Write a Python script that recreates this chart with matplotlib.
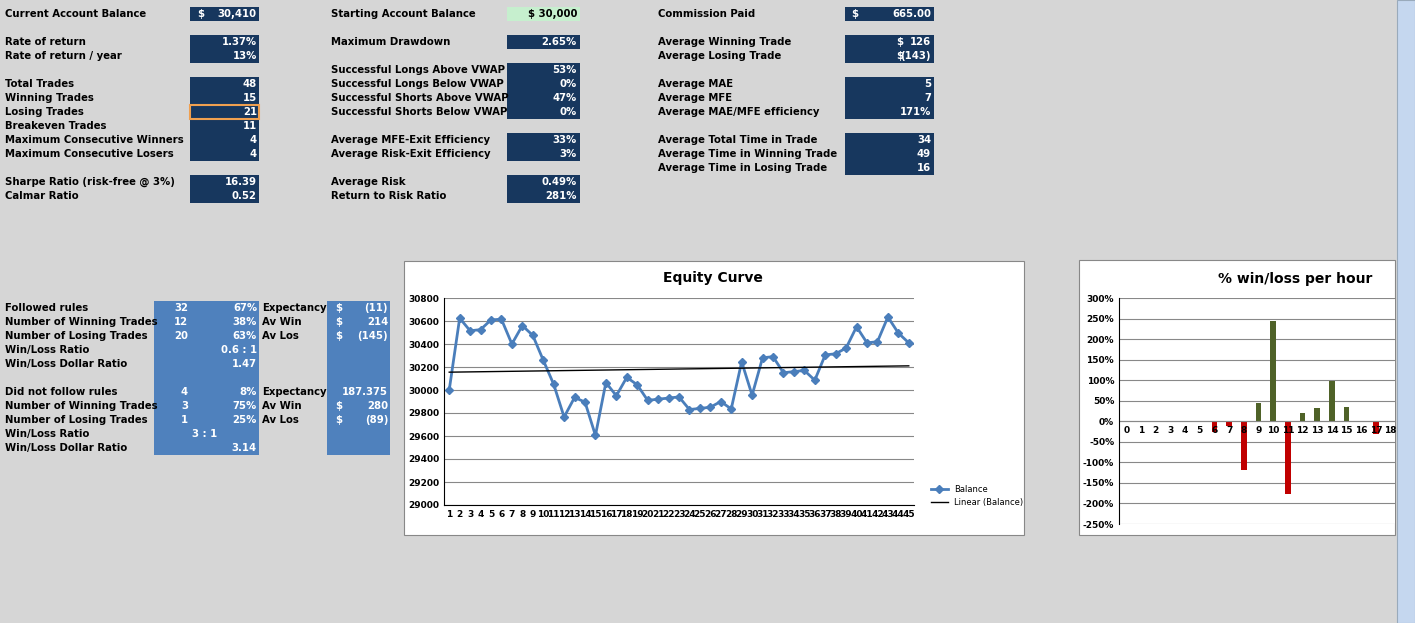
import matplotlib
matplotlib.use("Agg")
import matplotlib.pyplot as plt
from matplotlib.patches import Rectangle

W, H = 1415, 623
equity = [30000, 30625, 30515, 30525, 30610, 30615, 30400, 30560, 30475, 30260, 30050, 29765, 29935, 29895, 29605,
          30065, 29950, 30110, 30045, 29910, 29920, 29930, 29940, 29830, 29840, 29850, 29900, 29835, 30245, 29955,
          30280, 30290, 30150, 30160, 30170, 30085, 30305, 30315, 30365, 30550, 30410, 30420, 30635, 30495, 30410]
trend = [30155, 30210]
hours = list(range(19))
hour_pct = [0, 0, 0, 0, 0, 0, -25, -12, -118, 45, 243, -178, 20, 32, 98, 35, 0, -30, 0]

col1 = [(14, "Current Account Balance", "30,410"), (42, "Rate of return", "1.37%"), (56, "Rate of return / year", "13%"),
        (84, "Total Trades", "48"), (98, "Winning Trades", "15"), (112, "Losing Trades", "21"),
        (126, "Breakeven Trades", "11"), (140, "Maximum Consecutive Winners", "4"), (154, "Maximum Consecutive Losers", "4"),
        (182, "Sharpe Ratio (risk-free @ 3%)", "16.39"), (196, "Calmar Ratio", "0.52")]
col2 = [(14, "Starting Account Balance", "$ 30,000"), (42, "Maximum Drawdown", "2.65%"),
        (70, "Successful Longs Above VWAP", "53%"), (84, "Successful Longs Below VWAP", "0%"),
        (98, "Successful Shorts Above VWAP", "47%"), (112, "Successful Shorts Below VWAP", "0%"),
        (140, "Average MFE-Exit Efficiency", "33%"), (154, "Average Risk-Exit Efficiency", "3%"),
        (182, "Average Risk", "0.49%"), (196, "Return to Risk Ratio", "281%")]
col3 = [(14, "Commission Paid", "665.00"), (42, "Average Winning Trade", "126"), (56, "Average Losing Trade", "(143)"),
        (84, "Average MAE", "5"), (98, "Average MFE", "7"), (112, "Average MAE/MFE efficiency", "171%"),
        (140, "Average Total Time in Trade", "34"), (154, "Average Time in Winning Trade", "49"),
        (168, "Average Time in Losing Trade", "16")]
low = [(308, "Followed rules", "32", "67%", "Expectancy", "$", "(11)"),
       (322, "Number of Winning Trades", "12", "38%", "Av Win", "$", "214"),
       (336, "Number of Losing Trades", "20", "63%", "Av Los", "$", "(145)"),
       (350, "Win/Loss Ratio", "", "0.6 : 1", "", "", ""),
       (364, "Win/Loss Dollar Ratio", "", "1.47", "", "", ""),
       (392, "Did not follow rules", "4", "8%", "Expectancy", "", "187.375"),
       (406, "Number of Winning Trades", "3", "75%", "Av Win", "$", "280"),
       (420, "Number of Losing Trades", "1", "25%", "Av Los", "$", "(89)"),
       (434, "Win/Loss Ratio", "3 : 1", "", "", "", ""),
       (448, "Win/Loss Dollar Ratio", "", "3.14", "", "", "")]

DARK = "#17375e"; LIGHT = "#4f81bd"
fig = plt.figure(figsize=(W/100, H/100), dpi=100, facecolor="#d6d6d6")
bg = fig.add_axes([0, 0, 1, 1]); bg.set_xlim(0, W); bg.set_ylim(H, 0); bg.axis("off")

def rect(x0, y0, x1, y1, fc, ec="none", lw=0):
    bg.add_patch(Rectangle((x0, y0), x1-x0, y1-y0, fc=fc, ec=ec, lw=lw))

def txt(x, y, s, ha="left", color="black"):
    bg.text(x, y, s, ha=ha, va="center", fontsize=7.3, fontweight="bold", color=color)

# dark boxes
for (a, b) in [(7, 21), (35, 63), (77, 161), (175, 203)]:
    rect(190, a, 259, b, DARK)
for (a, b) in [(35, 49), (63, 119), (133, 161), (175, 203)]:
    rect(507, a, 580, b, DARK)
rect(507, 7, 580, 21, "#c6efce")
for (a, b) in [(7, 21), (35, 63), (77, 119), (133, 175)]:
    rect(845, a, 934, b, DARK)
rect(190, 105, 259, 119, "none", "#f0a050", 1.5)

for y, l, v in col1:
    txt(5, y, l); txt(257, y, v, "right", "white")
txt(197, 14, "$", color="white")
for y, l, v in col2:
    txt(331, y, l); txt(577, y, v, "right", "black" if y == 14 else "white")
for y, l, v in col3:
    txt(658, y, l); txt(931, y, v, "right", "white")
txt(851, 14, "$", color="white"); txt(896, 42, "$", color="white"); txt(896, 56, "$", color="white")

rect(154, 301, 259, 455, LIGHT); rect(327, 301, 390, 455, LIGHT)
for y, l, a, b, e, d, v in low:
    txt(5, y, l)
    if l == "Win/Loss Ratio" and a:
        txt(205, y, a, "center", "white")
    elif a:
        txt(188, y, a, "right", "white")
    txt(257, y, b, "right", "white")
    txt(262, y, e); txt(335, y, d, color="white"); txt(388, y, v, "right", "white")

# scrollbar
rect(1397, 0, 1415, 623, "#c5d7ef", "#9ab", 0.8)

# equity chart
rect(404, 261, 1024, 535, "white", "#888", 0.8)
ax = fig.add_axes([444/W, 1-505/H, (914-444)/W, (505-298)/H])
x = list(range(1, len(equity)+1))
ax.plot(x, equity, color="#4a7ebb", lw=2, marker="D", ms=4, label="Balance")
ax.plot([1, len(equity)], trend, color="black", lw=1, label="Linear (Balance)")
ax.set_ylim(29000, 30800); ax.set_xlim(0.5, len(equity)+0.5)
ax.set_yticks(range(29000, 30801, 200)); ax.set_xticks(x)
ax.tick_params(labelsize=6.5, length=0)
for t in ax.get_xticklabels() + ax.get_yticklabels(): t.set_fontweight("bold")
ax.grid(axis="y", color="#888", lw=0.8)
for s in ["top", "right"]: ax.spines[s].set_visible(False)
ax.set_facecolor("white")
ax.legend(loc="center left", bbox_to_anchor=(1.02, 0.045), frameon=False, fontsize=6)
bg.text(713, 278, "Equity Curve", ha="center", va="center", fontsize=10, fontweight="bold")

# win/loss chart
rect(1079, 260, 1395, 535, "white", "#888", 0.8)
ax2 = fig.add_axes([1119/W, 1-524/H, (1395-1119)/W, (524-298)/H])
cols = ["#c00000" if v < 0 else "#4f6228" for v in hour_pct]
ax2.bar(hours, hour_pct, color=cols, width=0.38)
ax2.set_ylim(-250, 300); ax2.set_xlim(-0.5, 18.3)
ax2.set_yticks(range(-250, 301, 50)); ax2.set_yticklabels([f"{v}%" for v in range(-250, 301, 50)])
ax2.set_xticks([])
ax2.grid(axis="y", color="#888", lw=0.8); ax2.set_axisbelow(True)
ax2.axhline(0, color="#888", lw=0.8)
for h in hours:
    ax2.text(h, -12, str(h), ha="center", va="top", fontsize=6.5, fontweight="bold")
ax2.tick_params(labelsize=6.5, length=0)
for t in ax2.get_yticklabels(): t.set_fontweight("bold")
for s in ["top", "right", "bottom"]: ax2.spines[s].set_visible(False)
bg.text(1295, 279, "% win/loss per hour", ha="center", va="center", fontsize=10, fontweight="bold")

fig.savefig("out.png", dpi=100, facecolor=fig.get_facecolor())
